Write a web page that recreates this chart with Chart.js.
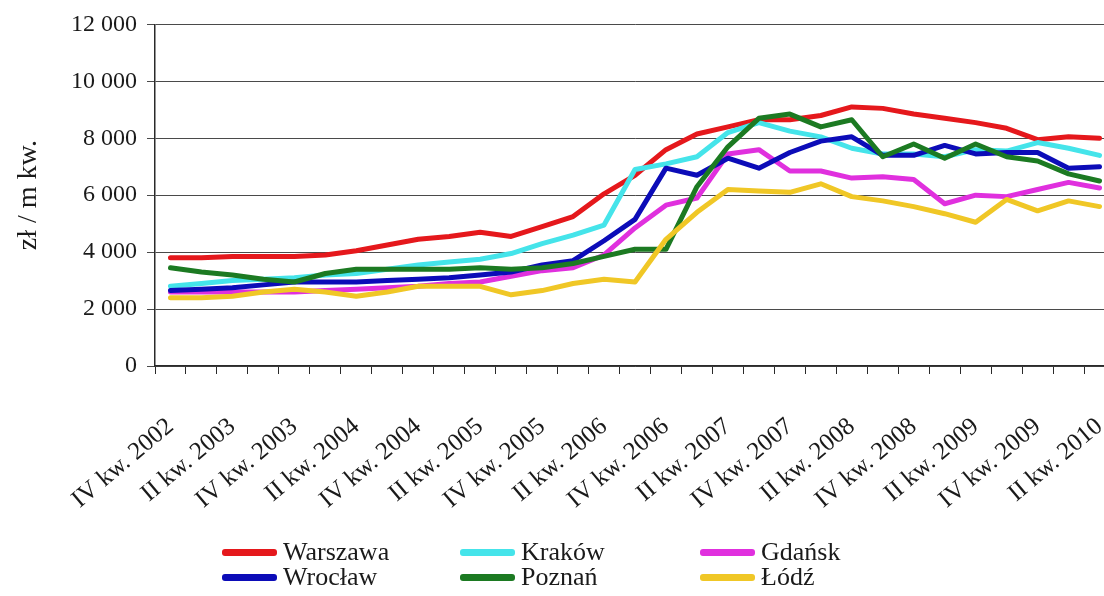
<!DOCTYPE html>
<html lang="pl">
<head>
<meta charset="utf-8">
<title>Ceny mieszkań</title>
<script src="https://cdn.jsdelivr.net/npm/chart.js@4.4.1/dist/chart.umd.min.js"></script>
<style>
  html, body { margin: 0; padding: 0; background: #fff; overflow: hidden; }
  .wrap { position: relative; width: 1104px; height: 596px; overflow: hidden; }
  #jsPriceCanvas { position: absolute; left: 0; top: 0; }
  .legend { font-family: "Liberation Serif", "Times New Roman", serif; font-size: 26px; color: #1a1a1a; }
  .legend-item { position: absolute; display: flex; align-items: center; white-space: nowrap; height: 26px; }
  .legend-line { width: 55px; height: 7px; border-radius: 3px; margin-right: 6px; }
</style>
</head>
<body>
<div class="wrap">
  <canvas id="jsPriceCanvas" width="1115" height="540"></canvas>
  <div class="legend jsLegend"></div>
</div>
<script>
// quarters, IV 2002 .. II 2010
const quarters = [
  "IV kw. 2002",
  "I kw. 2003", "II kw. 2003", "III kw. 2003", "IV kw. 2003",
  "I kw. 2004", "II kw. 2004", "III kw. 2004", "IV kw. 2004",
  "I kw. 2005", "II kw. 2005", "III kw. 2005", "IV kw. 2005",
  "I kw. 2006", "II kw. 2006", "III kw. 2006", "IV kw. 2006",
  "I kw. 2007", "II kw. 2007", "III kw. 2007", "IV kw. 2007",
  "I kw. 2008", "II kw. 2008", "III kw. 2008", "IV kw. 2008",
  "I kw. 2009", "II kw. 2009", "III kw. 2009", "IV kw. 2009",
  "I kw. 2010", "II kw. 2010",
];

const warszawa = [3800, 3800, 3850, 3850, 3850, 3900, 4050, 4250, 4450, 4550, 4700, 4550, 4900, 5250, 6050, 6700,
  7600, 8150, 8400, 8650, 8650, 8800, 9100, 9050, 8850, 8700, 8550, 8350, 7950, 8050, 8000];
const krakow = [2800, 2900, 3000, 3050, 3100, 3200, 3250, 3400, 3550, 3650, 3750, 3950, 4300, 4600, 4950, 6900,
  7100, 7350, 8200, 8550, 8250, 8050, 7650, 7450, 7450, 7350, 7600, 7550, 7850, 7650, 7400];
const gdansk = [2600, 2600, 2600, 2600, 2600, 2650, 2700, 2750, 2800, 2900, 2950, 3150, 3350, 3450, 3900, 4850,
  5650, 5900, 7450, 7600, 6850, 6850, 6600, 6650, 6550, 5700, 6000, 5950, 6200, 6450, 6250];
const wroclaw = [2650, 2700, 2750, 2850, 2950, 2950, 2950, 3000, 3050, 3100, 3200, 3300, 3550, 3700, 4400, 5150,
  6950, 6700, 7300, 6950, 7500, 7900, 8050, 7400, 7400, 7750, 7450, 7500, 7500, 6950, 7000];
const poznan = [3450, 3300, 3200, 3050, 2950, 3250, 3400, 3400, 3400, 3400, 3450, 3400, 3450, 3600, 3850, 4100,
  4100, 6300, 7700, 8700, 8850, 8400, 8650, 7350, 7800, 7300, 7800, 7350, 7200, 6750, 6500];
const lodz = [2400, 2400, 2450, 2600, 2700, 2600, 2450, 2600, 2800, 2800, 2800, 2500, 2650, 2900, 3050, 2950,
  4450, 5400, 6200, 6150, 6100, 6400, 5950, 5800, 5600, 5350, 5050, 5850, 5450, 5800, 5600];

const yTickLabels = ["0", "2 000", "4 000", "6 000", "8 000", "10 000", "12 000"];

const cities = ["Warszawa", "Kraków", "Gdańsk", "Wrocław", "Poznań", "Łódź"];
const cityValues = [warszawa, krakow, gdansk, wroclaw, poznan, lodz];
const cityColors = ["#e5181c", "#45e4ea", "#e030de", "#0c0cb8", "#1c7a22", "#f0c726"];

const serif = '"Liberation Serif", "Times New Roman", serif';
const axisColor = "#2a2a2a";

let priceChart = null;

const drawPriceChart = () => {
  const ctx = document.getElementById("jsPriceCanvas").getContext("2d");
  if (priceChart) priceChart.destroy();

  const datasets = cities.map((name, i) => ({
    label: name,
    data: cityValues[i],
    borderColor: cityColors[i],
    backgroundColor: cityColors[i],
    borderWidth: 5,
    pointRadius: 0,
    tension: 0,
    fill: false,
    borderJoinStyle: "round",
    borderCapStyle: "round",
    order: cities.length - i, // later series on top, like the original
  }));

  priceChart = new Chart(ctx, {
    type: "line",
    data: { labels: quarters, datasets },
    options: {
      responsive: false,
      animation: false,
      layout: { padding: { top: 24, right: 0, left: 0, bottom: 0 } },
      plugins: {
        legend: { display: false },
        tooltip: { enabled: false },
      },
      scales: {
        x: {
          type: "category",
          offset: true,
          grid: {
            offset: true,
            drawOnChartArea: false,
            drawTicks: true,
            tickLength: 8,
            color: axisColor,
          },
          border: { color: axisColor, width: 1.5 },
          ticks: {
            autoSkip: false,
            minRotation: 40,
            maxRotation: 40,
            padding: 38,
            color: "#1a1a1a",
            font: { family: serif, size: 25 },
            callback: (value, index) => (index % 2 === 0 ? quarters[index] : ""),
          },
          afterFit: (scale) => {
            scale.height = 540 - 366;
            scale.paddingLeft = 0;
            scale.paddingRight = 0;
          },
        },
        y: {
          min: 0,
          max: 12000,
          grid: {
            color: "#4a4a4a",
            lineWidth: 1,
            tickLength: 8,
          },
          border: { color: axisColor, width: 1.5 },
          ticks: {
            stepSize: 2000,
            padding: 10,
            color: "#1a1a1a",
            font: { family: serif, size: 24 },
            callback: (value) => yTickLabels[value / 2000],
          },
          title: {
            display: true,
            text: "zł / m kw.",
            color: "#1a1a1a",
            font: { family: serif, size: 28 },
            padding: { top: 12, bottom: 0 },
          },
          afterFit: (scale) => {
            scale.width = 155;
          },
        },
      },
    },
  });
};

// legend laid out as a 3 x 2 grid under the chart
const buildLegend = () => {
  const legend = document.querySelector(".jsLegend");
  const colX = [222, 460, 700];
  const rowY = [539, 564];
  cities.forEach((name, i) => {
    const item = document.createElement("div");
    item.className = "legend-item";
    item.style.left = colX[i % 3] + "px";
    item.style.top = rowY[Math.floor(i / 3)] + "px";
    item.innerHTML = `<span class="legend-line" style="background:${cityColors[i]}"></span><span>${name}</span>`;
    legend.appendChild(item);
  });
};

window.addEventListener("DOMContentLoaded", () => {
  drawPriceChart();
  buildLegend();
});
</script>
</body>
</html>
